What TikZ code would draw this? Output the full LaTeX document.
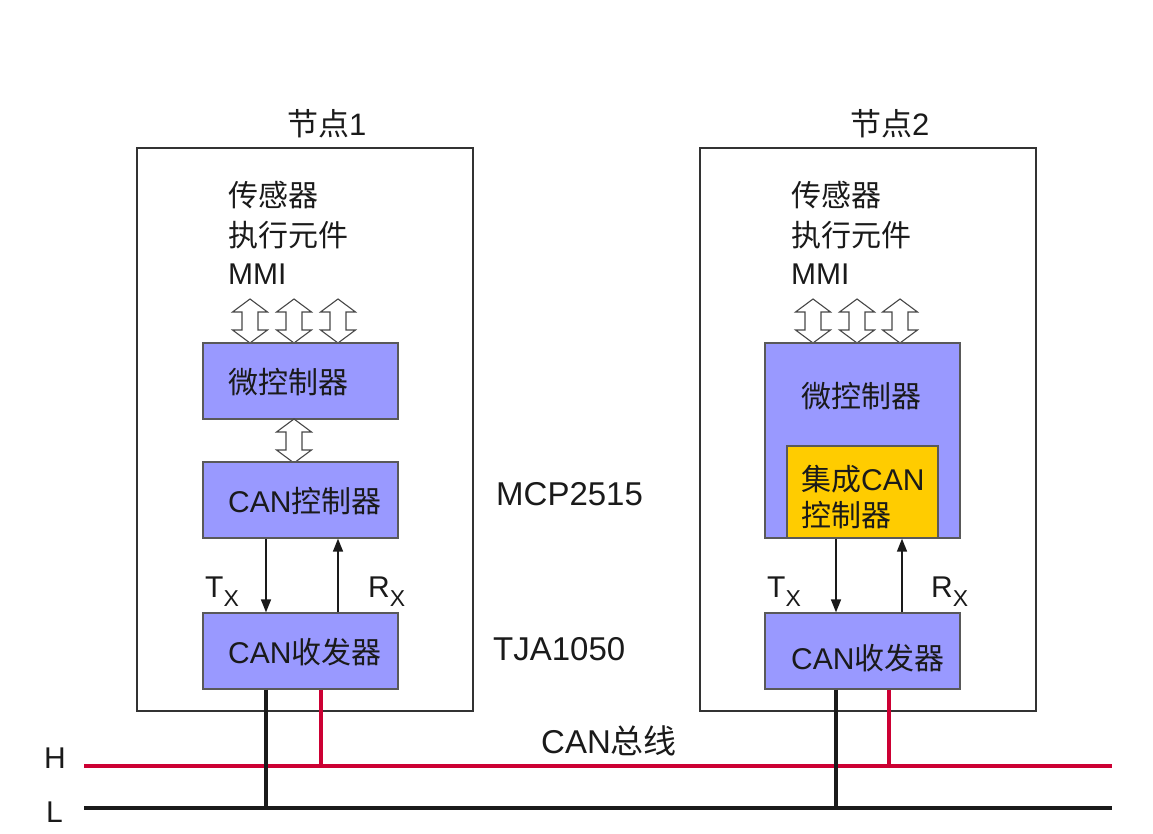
\documentclass[tikz,border=0pt]{standalone}
\usepackage{fontspec}
\setmainfont{Liberation Sans}
\newfontfamily\cjk{Noto Sans CJK SC}
\newcommand\zhtxt[1]{{\cjk #1}}
\usetikzlibrary{arrows.meta}
\definecolor{boxblue}{HTML}{9999FF}
\definecolor{chipyellow}{HTML}{FFCC00}
\definecolor{busred}{HTML}{CC0033}
\definecolor{ink}{HTML}{1A1A1A}
\definecolor{framec}{HTML}{333333}
\begin{document}
\begin{tikzpicture}[x=1pt,y=-1pt,
  nodeframe/.style={draw=framec, line width=2pt, fill=none},
  block/.style={draw=black!65, line width=1.3pt, fill=boxblue, inner sep=0pt},
  chip/.style={draw=black!65, line width=1.3pt, fill=chipyellow, inner sep=0pt},
  lbl/.style={text=ink, inner sep=0pt, anchor=base west, font=\fontsize{30}{35}\selectfont},
  biglbl/.style={lbl, font=\fontsize{33}{38}\selectfont},
  titlelbl/.style={lbl, font=\fontsize{31}{36}\selectfont},
  sig/.style={draw=ink, line width=1.6pt, -{Triangle[length=13pt,width=10pt]}},
  redline/.style={draw=busred, line width=4.5pt},
  blkline/.style={draw=ink, line width=4.5pt},
  dbl/.pic={\draw[draw=black!72, fill=white, line width=1.1pt]
     (0,0) -- (17.5,13) -- (8,13) -- (8,31) -- (17.5,31) -- (0,44)
     -- (-17.5,31) -- (-8,31) -- (-8,13) -- (-17.5,13) -- cycle;}
]
\useasboundingbox (0,0) rectangle (1153,834);

% ---------- node 1 ----------
\node[nodeframe, minimum width=336pt, minimum height=563pt] (n1) at (305,429.5) {};
\node[titlelbl] (t1) at (287,136) {\zhtxt{节点}1};
\node[lbl] (s1a) at (228,207) {\zhtxt{传感器}};
\node[lbl] (s1b) at (228,247) {\zhtxt{执行元件}};
\node[lbl] (s1c) at (228,284) {MMI};
\pic at (250,299) {dbl};
\pic at (294,299) {dbl};
\pic at (338,299) {dbl};
\node[block, minimum width=195pt, minimum height=76pt] (mc1) at (300.5,381) {};
\node[lbl] (mc1t) at (228,393) {\zhtxt{微控制器}};
\pic at (294,419) {dbl};
\node[block, minimum width=195pt, minimum height=76pt] (cc1) at (300.5,500) {};
\node[lbl] (cc1t) at (228,512) {CAN\zhtxt{控制器}};
\node[block, minimum width=195pt, minimum height=76pt] (tr1) at (300.5,651) {};
\node[lbl] (tr1t) at (228,663) {CAN\zhtxt{收发器}};
\node[biglbl] (mcp) at (496,505) {MCP2515};
\node[biglbl] (tja) at (493,660) {TJA1050};
\draw[sig] (cc1.south -| 266,0) -- (tr1.north -| 266,0);
\draw[sig] (tr1.north -| 338,0) -- (cc1.south -| 338,0);
\node[lbl] (tx1) at (205,597) {T\raisebox{-9pt}{\fontsize{23}{25}\selectfont X}};
\node[lbl] (rx1) at (368,597) {R\raisebox{-9pt}{\fontsize{23}{25}\selectfont X}};

% ---------- node 2 ----------
\node[nodeframe, minimum width=336pt, minimum height=563pt] (n2) at (868,429.5) {};
\node[titlelbl] (t2) at (850,136) {\zhtxt{节点}2};
\node[lbl] (s2a) at (791,207) {\zhtxt{传感器}};
\node[lbl] (s2b) at (791,247) {\zhtxt{执行元件}};
\node[lbl] (s2c) at (791,284) {MMI};
\pic at (813,299) {dbl};
\pic at (857,299) {dbl};
\pic at (900,299) {dbl};
\node[block, minimum width=195pt, minimum height=195pt] (mc2) at (862.5,440.5) {};
\node[lbl] (mc2t) at (801,407) {\zhtxt{微控制器}};
\node[chip, minimum width=151pt, minimum height=92pt] (cc2) at (862.5,492) {};
\node[lbl] (cc2a) at (801,490) {\zhtxt{集成}CAN};
\node[lbl] (cc2b) at (801,526) {\zhtxt{控制器}};
\node[block, minimum width=195pt, minimum height=76pt] (tr2) at (862.5,651) {};
\node[lbl] (tr2t) at (791,669) {CAN\zhtxt{收发器}};
\draw[sig] (mc2.south -| 836,0) -- (tr2.north -| 836,0);
\draw[sig] (tr2.north -| 902,0) -- (mc2.south -| 902,0);
\node[lbl] (tx2) at (767,597) {T\raisebox{-9pt}{\fontsize{23}{25}\selectfont X}};
\node[lbl] (rx2) at (931,597) {R\raisebox{-9pt}{\fontsize{23}{25}\selectfont X}};

% ---------- bus ----------
\coordinate (hL) at (84,766);
\coordinate (hR) at (1112,766);
\coordinate (lL) at (84,808);
\coordinate (lR) at (1112,808);
\draw[redline] (hL) -- (hR);
\draw[blkline] (lL) -- (lR);
\draw[blkline] (tr1.south -| 266,0) -- (lL -| 266,0);
\draw[redline] (tr1.south -| 321,0) -- (hL -| 321,0);
\draw[blkline] (tr2.south -| 836,0) -- (lL -| 836,0);
\draw[redline] (tr2.south -| 889,0) -- (hL -| 889,0);
\node[biglbl] (busl) at (541,753) {CAN\zhtxt{总线}};
\node[lbl] (hlab) at (44,768) {H};
\node[lbl] (llab) at (46,822) {L};
\end{tikzpicture}
\end{document}
